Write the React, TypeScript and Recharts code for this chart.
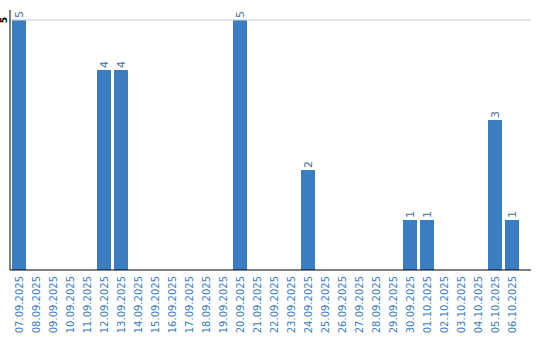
import { BarChart, Bar, XAxis, YAxis, ReferenceLine, LabelList } from 'recharts'

// ─── Data ─────────────────────────────────────────────────────────────────────

const DAYS = [
  '07.09.2025', '08.09.2025', '09.09.2025', '10.09.2025', '11.09.2025',
  '12.09.2025', '13.09.2025', '14.09.2025', '15.09.2025', '16.09.2025',
  '17.09.2025', '18.09.2025', '19.09.2025', '20.09.2025', '21.09.2025',
  '22.09.2025', '23.09.2025', '24.09.2025', '25.09.2025', '26.09.2025',
  '27.09.2025', '28.09.2025', '29.09.2025', '30.09.2025', '01.10.2025',
  '02.10.2025', '03.10.2025', '04.10.2025', '05.10.2025', '06.10.2025',
]

const COUNTS = [
  5, 0, 0, 0, 0,
  4, 4, 0, 0, 0,
  0, 0, 0, 5, 0,
  0, 0, 2, 0, 0,
  0, 0, 0, 1, 1,
  0, 0, 0, 3, 1,
]

const Y_TICKS = [5]

const BAR_COLOR = '#3b7dc3'
const TICK_COLOR = '#3b7dc3'
const VALUE_COLOR = '#4a6f9f'
const FONT = '"DejaVu Sans", Verdana, sans-serif'

const data = DAYS.map((day, i) => ({ day, count: COUNTS[i] }))

// ─── Ticks & labels ───────────────────────────────────────────────────────────

function DayTick({ x, y, payload }: any) {
  const tx = x + 4
  const ty = y - 2
  return (
    <text
      x={tx}
      y={ty}
      transform={`rotate(-90, ${tx}, ${ty})`}
      textAnchor="end"
      fontSize={10}
      fontFamily={FONT}
      fill={TICK_COLOR}
    >
      {payload.value}
    </text>
  )
}

function CountTick({ y, payload }: any) {
  const tx = 7
  return (
    <text
      x={tx}
      y={y}
      transform={`rotate(-90, ${tx}, ${y})`}
      textAnchor="middle"
      fontSize={9}
      fontWeight="bold"
      fontFamily={FONT}
      fill="#000"
    >
      {payload.value}
    </text>
  )
}

function ValueLabel({ x, y, width, value }: any) {
  if (!value) return null
  const cx = x + width / 2 + 4
  const cy = y - 2
  return (
    <text
      x={cx}
      y={cy}
      transform={`rotate(-90, ${cx}, ${cy})`}
      textAnchor="start"
      fontSize={11}
      fontFamily={FONT}
      fill={VALUE_COLOR}
    >
      {value}
    </text>
  )
}

// ─── Component ────────────────────────────────────────────────────────────────

export default function App() {
  return (
    <div style={{ position: 'absolute', left: 0, top: 0, width: 540, height: 340, background: '#fff' }}>
      <BarChart
        width={540}
        height={340}
        data={data}
        margin={{ top: 10, right: 9, left: 0, bottom: 0 }}
        barSize={14}
      >
        {Y_TICKS.map((t) => (
          <ReferenceLine key={t} y={t} stroke="#cccccc" />
        ))}
        <XAxis
          dataKey="day"
          interval={0}
          height={70}
          tick={<DayTick />}
          tickLine={false}
          axisLine={{ stroke: '#000' }}
          padding={{ left: 0, right: 11 }}
        />
        <YAxis
          width={10}
          domain={[0, 5.2]}
          ticks={Y_TICKS}
          tick={<CountTick />}
          tickLine={false}
          axisLine={{ stroke: '#000' }}
        />
        <Bar dataKey="count" fill={BAR_COLOR} isAnimationActive={false}>
          <LabelList dataKey="count" content={<ValueLabel />} />
        </Bar>
      </BarChart>
    </div>
  )
}
